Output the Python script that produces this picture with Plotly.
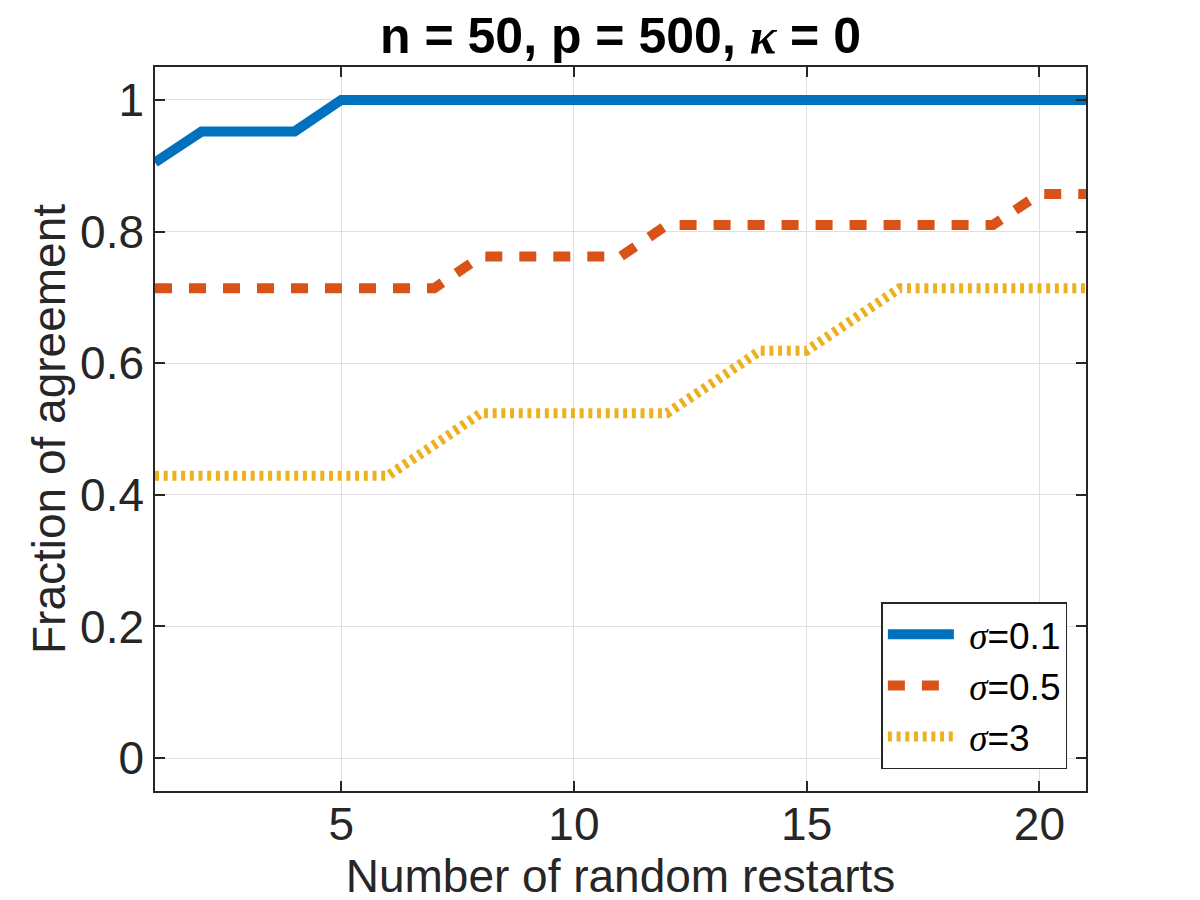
import plotly.graph_objects as go

# restarts 1..21
restarts = list(range(1, 22))

# fraction of agreement
frac_sigma_01 = [0.905, 0.952, 0.952, 0.952] + [1.0] * 17
frac_sigma_05 = [0.714] * 7 + [0.762] * 4 + [0.810] * 8 + [0.857] * 2
frac_sigma_3 = [0.429] * 6 + [0.476] + [0.524] * 5 + [0.571, 0.619, 0.619, 0.667] + [0.714] * 5

serif = "<span style=\"font-family:'Liberation Serif', 'DejaVu Serif', serif\"><i>{}</i></span>"
series_names = ["\u00a0" + serif.format("σ") + "=0.1",
                "\u00a0" + serif.format("σ") + "=0.5",
                "\u00a0" + serif.format("σ") + "=3"]
series_colors = ["#0072BD", "#D95319", "#EDB120"]
series_dash = ["solid", "17px,17px", "4px,4.7px"]

y_ticks = [0, 0.2, 0.4, 0.6, 0.8, 1]
y_tick_text = ["0", "0.2", "0.4", "0.6", "0.8", "1"]
x_ticks = [5, 10, 15, 20]

font_family = "Liberation Sans, Arial, Helvetica, sans-serif"
axis_col = "#262626"

fig = go.Figure()
for name, vals, col, dash in zip(series_names,
                                 [frac_sigma_01, frac_sigma_05, frac_sigma_3],
                                 series_colors, series_dash):
    fig.add_trace(go.Scatter(
        x=restarts,
        y=vals,
        mode="lines",
        name=name,
        line=dict(color=col, width=10, dash=dash),
    ))

axis_common = dict(
    showline=True,
    linecolor=axis_col,
    linewidth=1.5,
    mirror="ticks",
    ticks="inside",
    ticklen=10,
    tickwidth=1.5,
    tickcolor=axis_col,
    showgrid=True,
    gridcolor="#dfdfdf",
    gridwidth=1,
    zeroline=False,
    automargin=False,
    tickfont=dict(size=46, color=axis_col, family=font_family),
)

fig.update_xaxes(
    range=[1, 21],
    tickvals=x_ticks,
    ticklabelstandoff=-8,
    title=dict(text="Number of random restarts",
               font=dict(size=46, color=axis_col, family=font_family),
               standoff=4),
    **axis_common,
)
fig.update_yaxes(
    range=[-0.05, 1.05],
    tickvals=y_ticks,
    ticktext=y_tick_text,
    ticklabelstandoff=0,
    title=dict(text="Fraction of agreement",
               font=dict(size=46, color=axis_col, family=font_family),
               standoff=0),
    **axis_common,
)

# the page puts the figure 8px in from the top-left corner
fig.update_layout(
    width=1200,
    height=900,
    margin=dict(l=147, r=122, t=59, b=117),
    paper_bgcolor="white",
    plot_bgcolor="white",
    font=dict(family=font_family, color=axis_col),
    title=dict(
        text="<b>n = 50, p = 500, " + serif.format("κ") + " = 0</b>",
        x=0.5, xref="paper", xanchor="center",
        y=0.97, yref="container", yanchor="middle",
        automargin=False,
        font=dict(size=50, color="black", family=font_family),
    ),
    legend=dict(
        x=0.98, y=0.03, xanchor="right", yanchor="bottom",
        bgcolor="white",
        bordercolor=axis_col,
        borderwidth=1.5,
        font=dict(size=37, color="black", family=font_family),
        itemwidth=66,
        tracegroupgap=0,
    ),
)

fig.write_html("out.html")
